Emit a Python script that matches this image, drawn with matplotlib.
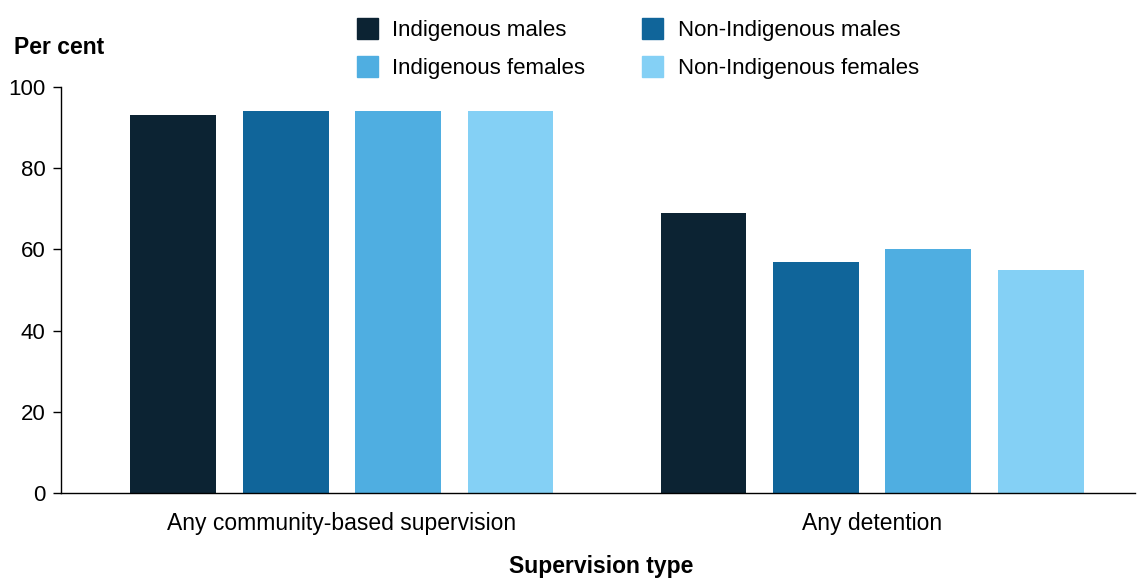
import numpy as np
import matplotlib.pyplot as plt
from matplotlib.patches import Patch

plt.rcParams['font.family'] = ['Liberation Sans', 'DejaVu Sans']

categories = ['Any community-based supervision', 'Any detention']
series = ['Indigenous males', 'Non-Indigenous males', 'Indigenous females', 'Non-Indigenous females']
values = {
    'Indigenous males': [93, 69],
    'Non-Indigenous males': [94, 57],
    'Indigenous females': [94, 60],
    'Non-Indigenous females': [94, 55],
}
colors = ['#0C2333', '#10659A', '#4FAEE1', '#84D0F5']

W, H = 1139, 578
fig = plt.figure(figsize=(W / 100, H / 100), dpi=100)
ax = fig.add_axes([61 / W, 1 - 493 / H, (1135 - 61) / W, (493 - 87) / H])

x = np.arange(len(categories))
step = 0.212
width = 0.162
for i, s in enumerate(series):
    ax.bar(x + (i - 1.5) * step, values[s], width, color=colors[i], label=s)

ax.set_xlim(-0.53, 1.496)
ax.set_ylim(0, 100)
ax.set_yticks(range(0, 101, 20))
ax.set_xticks(x)
ax.set_xticklabels(categories)
ax.tick_params(axis='x', length=0, pad=14, labelsize=16.5)
ax.tick_params(axis='y', length=6, width=1, labelsize=16, pad=5)
for side in ['top', 'right']:
    ax.spines[side].set_visible(False)
ax.spines['left'].set_linewidth(1)
ax.spines['bottom'].set_linewidth(1)

fig.text(14 / W, 1 - 47 / H, 'Per cent', fontsize=16.5, fontweight='bold', va='center', ha='left')
fig.text(601 / W, 1 - 567 / H, 'Supervision type', fontsize=16.5, fontweight='bold', va='center', ha='center')

# legend fills by column, so reorder to read row-wise
order = [0, 2, 1, 3]
handles = [Patch(color=colors[k]) for k in order]
labels = [series[k] for k in order]
fig.legend(handles, labels, ncol=2, loc='upper left', bbox_to_anchor=(348 / W, 1 - 9 / H),
           frameon=False, fontsize=16, handlelength=0.95, handleheight=1.1,
           handletextpad=0.65, columnspacing=2.55, labelspacing=0.65, borderaxespad=0)

fig.savefig('out.png', dpi=100)
